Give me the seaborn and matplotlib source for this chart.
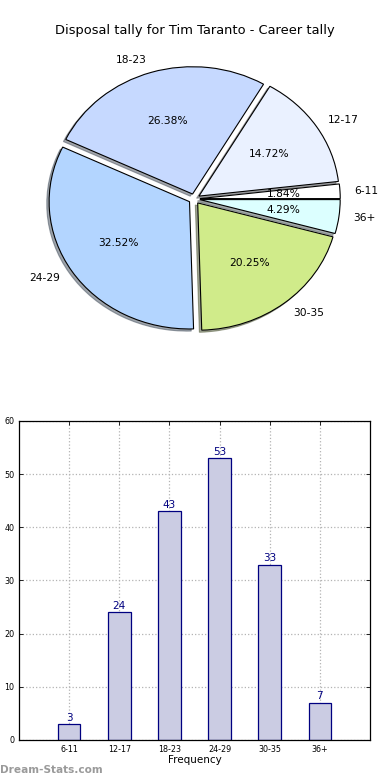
import matplotlib
matplotlib.use('Agg')
import matplotlib.pyplot as plt
import seaborn as sns
import pandas as pd

# age groups and disposal counts
groups = ['6-11', '12-17', '18-23', '24-29', '30-35', '36+']
counts = [3, 24, 43, 53, 33, 7]
pie_colors = ['#ffffff', '#eaf1ff', '#c6d9ff', '#b3d5ff', '#d0eb8a', '#dcffff']
title = 'Disposal tally for Tim Taranto - Career tally'

df = pd.DataFrame({'group': groups, 'count': counts})

plt.rcParams['font.family'] = 'DejaVu Sans'
fig = plt.figure(figsize=(3.9, 7.8), dpi=100)

# Pie chart (elliptical, like the old matplotlib default)
ax1 = fig.add_axes([0.048, 0.541, 0.9, 0.408])
wedges, texts, autotexts = ax1.pie(
    df['count'], labels=df['group'], colors=pie_colors,
    explode=[0.04] * len(groups), autopct='%.2f%%',
    shadow={'ox': -0.012, 'oy': -0.012, 'shade': 0.65},
    startangle=0, wedgeprops={'edgecolor': 'black', 'linewidth': 0.8},
    textprops={'fontsize': 7.7})
ax1.set_aspect('auto')
ax1.set_xlim(-1.25, 1.25)
ax1.set_ylim(-1.25, 1.25)
fig.text(0.5, 0.9615, title, ha='center', va='center', fontsize=9.4)

# Bar chart
ax2 = fig.add_axes([0.0487, 0.0513, 0.9, 0.409])
sns.barplot(data=df, x='group', y='count', ax=ax2, color='#cbcce3',
            edgecolor='navy', linewidth=0.9, width=0.45, saturation=1, zorder=2)
ax2.bar_label(ax2.containers[0], color='navy', fontsize=7.5, padding=1)
ax2.set_xlim(-1, 6)
ax2.set_ylim(0, 60)
ax2.set_yticks(range(0, 61, 10))
ax2.grid(True, linestyle=':', color='0.7', linewidth=0.9, zorder=0)
ax2.set_axisbelow(True)
ax2.tick_params(direction='in', top=True, right=True, labelsize=5.8, length=3, width=0.6)
ax2.set_xlabel('Frequency', fontsize=7.5, labelpad=1)
ax2.set_ylabel('')
for s in ax2.spines.values():
    s.set_linewidth(0.9)

fig.text(0.0, 0.0128, 'Dream-Stats.com', color='#9a9a9a', fontsize=7.6, fontweight='bold',
         ha='left', va='center')

fig.savefig('out.png', dpi=100)
